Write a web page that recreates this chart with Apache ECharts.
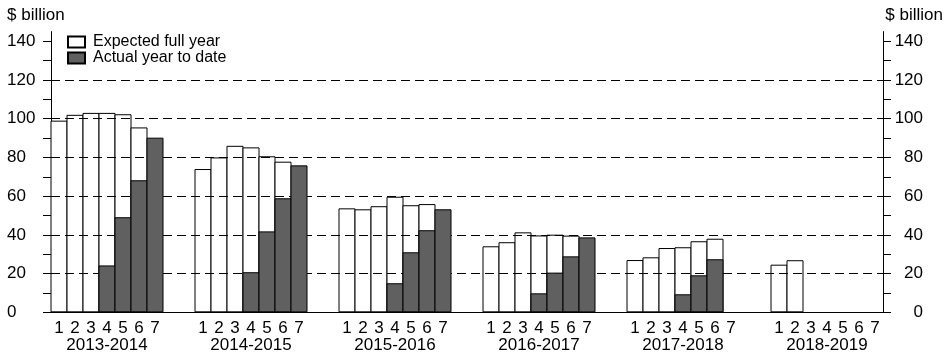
<!DOCTYPE html>
<html><head><meta charset="utf-8">
<script src="https://cdn.jsdelivr.net/npm/echarts@6/dist/echarts.min.js"></script>
<style>html,body{margin:0;padding:0;background:#fff}#c{width:948px;height:359px}</style>
</head><body><div id="c"></div>
<script>
const groups = ['2013-2014','2014-2015','2015-2016','2016-2017','2017-2018','2018-2019'];
const periods = ['1','2','3','4','5','6','7'];
const expectedByYear = [
  [99, 102, 103, 103, 102.3, 95.5, null],
  [74, 80, 86, 85.2, 80.6, 77.8, null],
  [53.7, 53.2, 54.8, 59.7, 55.3, 55.9, null],
  [34.1, 36.2, 41.3, 39.7, 40.1, 39.6, null],
  [27.0, 28.4, 33.2, 33.6, 36.7, 38.0, null],
  [24.6, 26.9, null, null, null, null, null]
];
const actualByYear = [
  [null, null, null, 24.2, 49.1, 68.2, 90.2],
  [null, null, null, 20.7, 41.8, 58.9, 75.9],
  [null, null, null, 15.0, 31.0, 42.4, 53.2],
  [null, null, null, 9.8, 20.5, 28.9, 38.7],
  [null, null, null, 9.3, 19.1, 27.4, null],
  [null, null, null, null, null, null, null]
];
const yLabelValues = [0, 20, 40, 60, 80, 100, 120, 140];
const yTickValues = [0, 10, 20, 30, 40, 50, 60, 70, 80, 90, 100, 110, 120, 130, 140];
const gridValues = [20, 40, 60, 80, 100, 120];
const gapSlots = 2;

const cats = [], expected = [], actual = [];
groups.forEach((g, gi) => {
  periods.forEach((p, pi) => {
    cats.push(g + '|' + p);
    expected.push(expectedByYear[gi][pi]);
    actual.push(actualByYear[gi][pi]);
  });
  if (gi < groups.length - 1) {
    for (let k = 0; k < gapSlots; k++) { cats.push('gap' + gi + '_' + k + '|'); expected.push(null); actual.push(null); }
  }
});

const font = "'Liberation Sans', Arial, sans-serif";
const chart = echarts.init(document.getElementById('c'));
chart.setOption({
  animation: false,
  backgroundColor: '#fff',
  textStyle: { fontFamily: font, color: '#000' },
  title: [
    { text: '$ billion', left: 7, top: 7, padding: 0, textStyle: { fontFamily: font, fontSize: 17, fontWeight: 'normal', color: '#000' } },
    { text: '$ billion', right: 5, top: 7, padding: 0, textStyle: { fontFamily: font, fontSize: 17, fontWeight: 'normal', color: '#000' } }
  ],
  legend: {
    orient: 'vertical', left: 67, top: 34, padding: 0, itemGap: 0,
    itemWidth: 17, itemHeight: 11, icon: 'rect',
    textStyle: { fontFamily: font, fontSize: 16, lineHeight: 15, color: '#000', padding: [0, 0, 0, 3] },
    data: ['Expected full year', 'Actual year to date']
  },
  grid: { left: 51, right: 65, top: 31.6, bottom: 46.7, containLabel: false },
  xAxis: [
    {
      type: 'category', data: cats, position: 'bottom',
      axisLine: { show: true, lineStyle: { color: '#000', width: 1 } },
      axisTick: { show: false },
      axisLabel: { interval: 0, margin: 8, fontSize: 17, color: '#000', fontFamily: font,
        formatter: v => v.split('|')[1] }
    },
    {
      type: 'category', data: cats, position: 'bottom', offset: 0,
      axisLine: { show: false }, axisTick: { show: false },
      axisLabel: { interval: 0, margin: 25, fontSize: 17, color: '#000', fontFamily: font,
        formatter: v => { const s = v.split('|'); return s[1] === '4' ? s[0] : ''; } }
    }
  ],
  yAxis: [
    {
      type: 'value', min: 0, max: 145, interval: 10, position: 'left',
      splitLine: { show: false },
      axisLine: { show: true, lineStyle: { color: '#000', width: 1 } },
      axisTick: { show: true, length: 8, customValues: yTickValues, lineStyle: { color: '#000' } },
      axisLabel: { customValues: yLabelValues, align: 'left', margin: 44, fontSize: 17, color: '#000', fontFamily: font, padding: [3, 0, 0, 0] }
    },
    {
      type: 'value', min: 0, max: 145, interval: 10, position: 'right',
      splitLine: { show: false },
      axisLine: { show: true, lineStyle: { color: '#000', width: 1 } },
      axisTick: { show: true, length: 8, customValues: yTickValues, lineStyle: { color: '#000' } },
      axisLabel: { customValues: yLabelValues, align: 'right', margin: 40, fontSize: 17, color: '#000', fontFamily: font, padding: [3, 0, 0, 0] }
    }
  ],
  series: [
    {
      name: 'Expected full year', type: 'bar', data: expected, xAxisIndex: 0, yAxisIndex: 0,
      barWidth: 17, barGap: '-100%', z: 2,
      itemStyle: { color: '#ffffff', borderColor: '#000', borderWidth: 1 },
      markLine: {
        silent: true, symbol: 'none', z: 3, label: { show: false },
        lineStyle: { color: '#000', width: 1, type: [9, 5] },
        data: gridValues.map(v => ({ yAxis: v }))
      }
    },
    {
      name: 'Actual year to date', type: 'bar', data: actual, xAxisIndex: 0, yAxisIndex: 0,
      barWidth: 17, barGap: '-100%', z: 4,
      itemStyle: { color: '#606060', borderColor: '#000', borderWidth: 1 }
    }
  ]
});
</script></body></html>
